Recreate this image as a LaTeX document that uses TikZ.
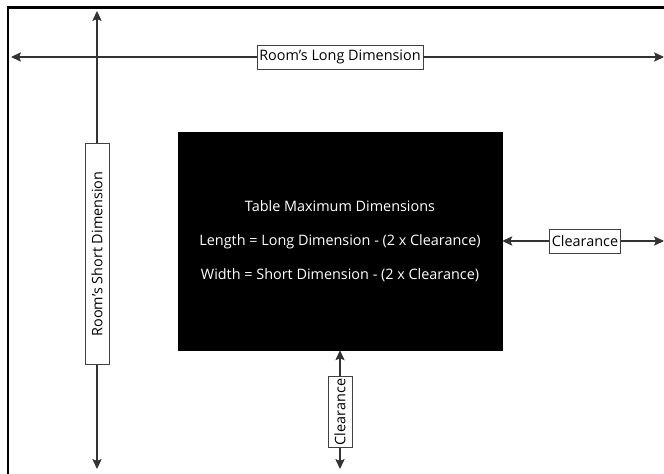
\documentclass[tikz,border=0pt]{standalone}
\usepackage{fontspec}
\setmainfont{Open Sans}
\usetikzlibrary{arrows.meta}
\tikzset{
	dimline/.style={line width=0.8pt, color=black!80, -{Stealth[length=7.5pt,width=7pt,inset=1.5pt]}},
	dimlabel/.style={draw=black!75, line width=0.6pt, fill=white, inner sep=1.8pt, minimum height=18pt, font=\fontsize{10.8}{12}\selectfont},
	tablebox/.style={fill=black, draw=black, text=white, minimum width=243pt, minimum height=163.5pt, align=center, font=\fontsize{10.8}{25.5}\selectfont}
}

\begin{document}
\begin{tikzpicture}[x=0.75pt, y=-0.75pt]
			%%%%% START %%%%%
			\useasboundingbox (0, 0) rectangle (664, 474);
			
			% room walls
			\draw[line width=2.2pt] (8, 474) -- (8, 7.5) -- (664, 7.5);
			
			% table
			\node[tablebox] (table) at (340, 241) {Table Maximum Dimensions\\Length = Long Dimension - (2 x Clearance)\\Width = Short Dimension - (2 x Clearance)};
			
			% room's long dimension
			\coordinate (longw) at (11, 57);
			\coordinate (longe) at (664, 57);
			\node[dimlabel] (longlbl) at (340, 57) {Room’s Long Dimension};
			\draw[dimline] (longlbl) -- (longw);
			\draw[dimline] (longlbl) -- (longe);
			
			% room's short dimension
			\coordinate (shortn) at (97, 11);
			\coordinate (shorts) at (97, 469);
			\node[dimlabel, rotate=90, minimum width=166pt] (shortlbl) at (97, 254) {Room’s Short Dimension};
			\draw[dimline] (shortlbl) -- (shortn);
			\draw[dimline] (shortlbl) -- (shorts);
			
			% side clearance
			\coordinate (sidee) at (664, 241);
			\node[dimlabel] (sidelbl) at (585, 241) {Clearance};
			\draw[dimline] (sidelbl) -- (table.east);
			\draw[dimline] (sidelbl) -- (sidee);
			
			% bottom clearance
			\coordinate (bottoms) at (340, 469);
			\node[dimlabel, rotate=90] (bottomlbl) at (340, 412) {Clearance};
			\draw[dimline] (bottomlbl) -- (table.south);
			\draw[dimline] (bottomlbl) -- (bottoms);
			
			%%%%% END %%%%%
\end{tikzpicture}
\end{document}
